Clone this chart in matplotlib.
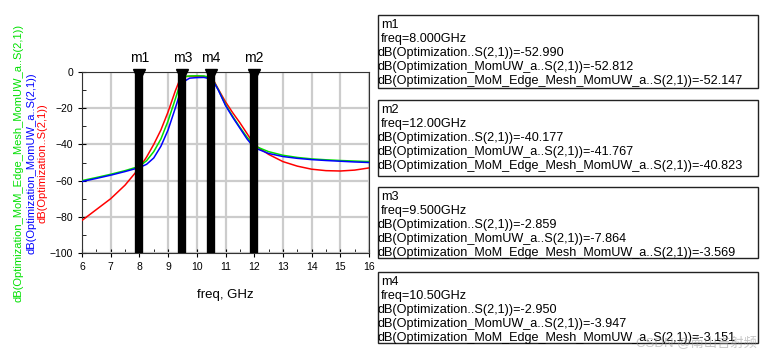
import matplotlib.pyplot as plt
from matplotlib.patches import Rectangle

# traces (GHz, dB)
freq = [6.0, 6.5, 7.0, 7.5, 8.0, 8.25, 8.5, 8.75, 9.0, 9.25, 9.4, 9.5, 9.6, 9.75,
        10.0, 10.25, 10.5, 10.6, 10.75, 11.0, 11.25, 11.5, 11.75, 12.0, 12.5,
        13.0, 13.5, 14.0, 14.5, 15.0, 15.5, 16.0]
s21_opt = [-82.0, -76.0, -70.0, -62.5, -53.0, -47.0, -40.0, -32.0, -22.0, -10.5,
           -4.5, -2.9, -2.5, -2.4, -2.4, -2.5, -3.0, -5.0, -9.5, -16.5, -22.5,
           -28.0, -34.0, -40.2, -45.5, -49.5, -52.0, -53.7, -54.5, -54.7, -54.2,
           -53.0]
s21_momuw = [-60.5, -58.8, -57.0, -55.0, -52.8, -51.0, -47.5, -41.0, -32.0,
             -20.0, -12.5, -7.9, -4.8, -3.4, -3.1, -3.0, -3.9, -5.8, -10.0,
             -18.5, -25.0, -31.0, -37.0, -41.8, -45.0, -46.7, -47.7, -48.4,
             -48.9, -49.3, -49.7, -50.0]
s21_edge = [-60.0, -58.3, -56.5, -54.5, -52.1, -49.0, -44.0, -37.0, -27.0,
            -15.0, -7.5, -3.6, -2.5, -2.2, -2.1, -2.2, -3.2, -5.5, -9.8, -18.0,
            -24.5, -30.5, -36.0, -40.8, -44.0, -46.0, -47.2, -48.0, -48.5, -48.9,
            -49.2, -49.5]

marker_names = ["m1", "m3", "m4", "m2"]
marker_freqs = [8.0, 9.5, 10.5, 12.0]

readouts = [
    ["m1", "freq=8.000GHz", "dB(Optimization..S(2,1))=-52.990",
     "dB(Optimization_MomUW_a..S(2,1))=-52.812",
     "dB(Optimization_MoM_Edge_Mesh_MomUW_a..S(2,1))=-52.147"],
    ["m2", "freq=12.00GHz", "dB(Optimization..S(2,1))=-40.177",
     "dB(Optimization_MomUW_a..S(2,1))=-41.767",
     "dB(Optimization_MoM_Edge_Mesh_MomUW_a..S(2,1))=-40.823"],
    ["m3", "freq=9.500GHz", "dB(Optimization..S(2,1))=-2.859",
     "dB(Optimization_MomUW_a..S(2,1))=-7.864",
     "dB(Optimization_MoM_Edge_Mesh_MomUW_a..S(2,1))=-3.569"],
    ["m4", "freq=10.50GHz", "dB(Optimization..S(2,1))=-2.950",
     "dB(Optimization_MomUW_a..S(2,1))=-3.947",
     "dB(Optimization_MoM_Edge_Mesh_MomUW_a..S(2,1))=-3.151"],
]

plt.rcParams["font.family"] = ["Liberation Sans", "Noto Sans CJK SC", "DejaVu Sans"]

W, H = 768, 360
fig = plt.figure(figsize=(W / 100, H / 100), dpi=100)
ax = fig.add_axes([82 / W, 1 - 253 / H, 287 / W, 181 / H])

ax.plot(freq, s21_opt, color="#ff0000", lw=1.1, zorder=3)
ax.plot(freq, s21_edge, color="#00e000", lw=1.1, zorder=3)
ax.plot(freq, s21_momuw, color="#0000ff", lw=1.1, zorder=3)

for name, f in zip(marker_names, marker_freqs):
    ax.plot([f, f], [0, -100], color="black", lw=6, solid_capstyle="butt", zorder=5)
    ax.plot(f, -1.5, marker="v", color="black", ms=9, zorder=6, clip_on=False)
    ax.text(f, 4, name, ha="center", va="bottom", fontsize=10)

ax.set_xlim(6, 16)
ax.set_ylim(-100, 0)
ax.set_xticks(range(6, 17))
ax.set_yticks(range(-100, 1, 20))
ax.set_xticks([x + 0.5 for x in range(6, 16)], minor=True)
ax.set_yticks(range(-90, 0, 20), minor=True)
ax.grid(True, which="major", color="#cccccc", lw=1.6)
ax.set_axisbelow(True)
ax.tick_params(which="major", direction="inout", length=6, labelsize=7.5, colors="black")
ax.tick_params(which="minor", direction="in", length=3)
for sp in ax.spines.values():
    sp.set_color("#333333")
ax.set_xlabel("freq, GHz", fontsize=9.5, labelpad=12)

# stacked coloured y labels
ylabels = [("dB(Optimization_MoM_Edge_Mesh_MomUW_a..S(2,1))", "#00e000", 19),
           ("dB(Optimization_MomUW_a..S(2,1))", "#0000ff", 32),
           ("dB(Optimization..S(2,1))", "#ff0000", 43)]
for txt, col, xp in ylabels:
    fig.text(xp / W, 1 - 163 / H, txt, color=col, rotation=90, ha="center",
             va="center", fontsize=8)

# marker readout boxes
boxes = [(15, 88), (100, 176), (187, 258), (272, 343)]
for (top, bot), lines in zip(boxes, readouts):
    fig.patches.append(Rectangle((378 / W, 1 - bot / H), 380 / W, (bot - top) / H,
                                 transform=fig.transFigure, fill=False,
                                 edgecolor="#222222", lw=1))
    for i, ln in enumerate(lines):
        x0 = 381 if i < 2 else 378
        fig.text(x0 / W, 1 - (top + 10 + 14 * i) / H, ln, fontsize=9.1,
                 ha="left", va="center")

fig.text(636 / W, 1 - 343 / H, "CSDN @南山吉射频", fontsize=9.5, color="#999999",
         alpha=0.55, ha="left", va="center")

fig.savefig("out.png", dpi=100)
